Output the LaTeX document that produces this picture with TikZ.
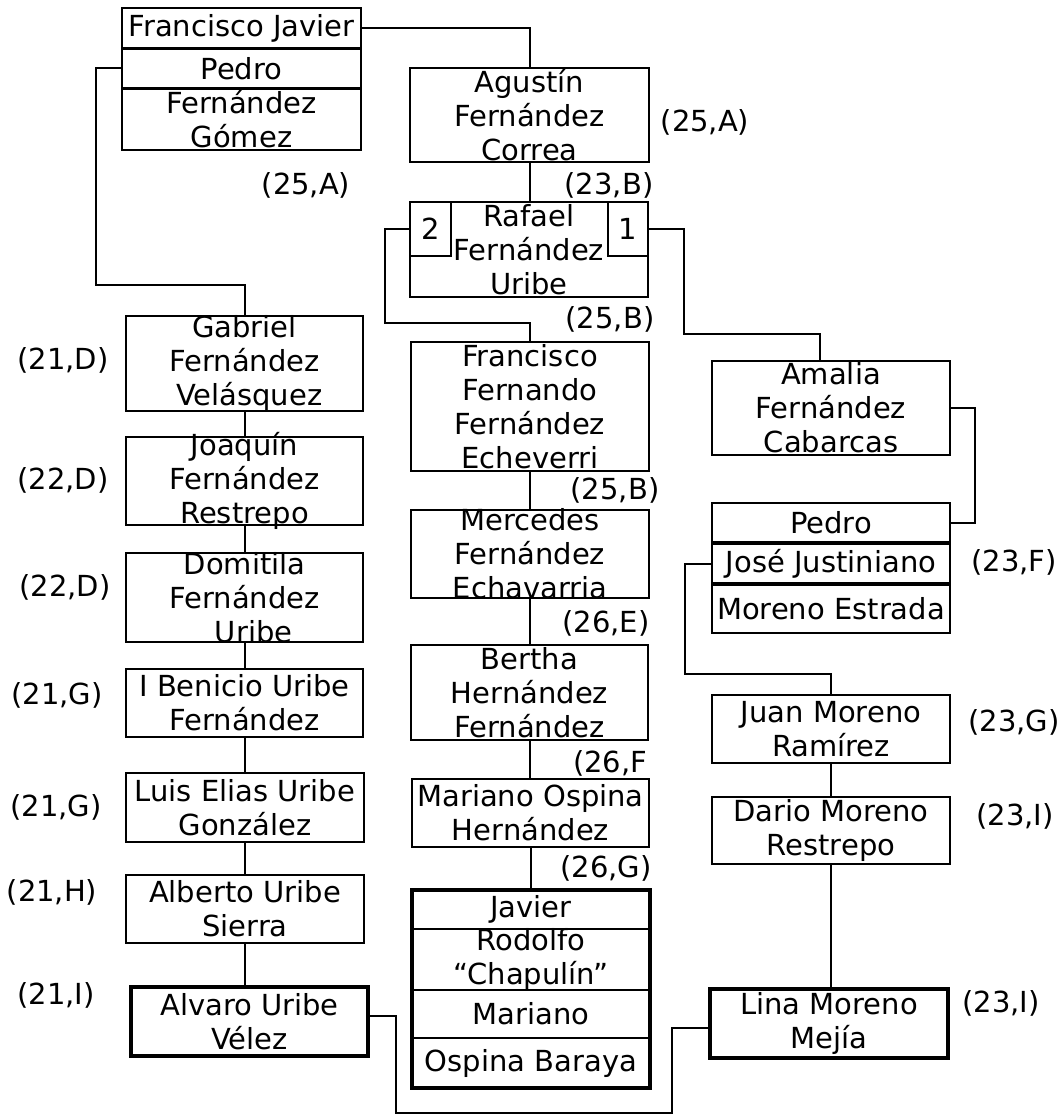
\documentclass[tikz,border=0pt]{standalone}
\usepackage{fontspec}
\setmainfont{DejaVu Sans}
\begin{document}
\begin{tikzpicture}[x=1pt,y=-1pt,
  box/.style={draw, line width=2pt, inner sep=0pt, outer sep=0pt},
  thickbox/.style={draw, line width=4pt, inner sep=0pt, outer sep=0pt},
  sz/.style 2 args={minimum width=#1pt, minimum height=#2pt},
  txt/.style={align=center, inner sep=0pt, font=\fontsize{29pt}{34pt}\selectfont},
  lab/.style={inner sep=0pt, font=\fontsize{29pt}{34pt}\selectfont},
  link/.style={line width=2pt}]
\useasboundingbox (0,0) rectangle (1064,1116);

% ---------- left column ----------
\node[box, sz={239}{40}] (fj1) at (241.5,28) {};
\node[txt] at (fj1) {Francisco Javier};
\node[box, sz={239}{39}] (fj2) at (241.5,68.5) {};
\node[txt] at (fj2) {Pedro};
\node[box, sz={239}{61}] (fj3) at (241.5,119.5) {};
\node[txt] at (fj3) {Fernández\\Gómez};

\node[box, sz={237}{95}] (gab) at (244.5,363.5) {};
\node[txt] at (gab) {Gabriel\\Fernández\\\ Velásquez};
\node[box, sz={237}{88}] (joa) at (244.5,481) {};
\node[txt] at (joa) {Joaquín\\Fernández\\Restrepo};
\node[box, sz={237}{89}] (dom) at (244.5,597.5) {};
\node[txt] at (dom) {Domitila\\Fernández\\\ \ Uribe};
\node[box, sz={237}{68}] (ben) at (244.5,703) {};
\node[txt] at (ben) {I Benicio Uribe\\Fernández};
\node[box, sz={238}{69}] (lui) at (245,807.5) {};
\node[txt] at (lui) {Luis Elias Uribe\\González};
\node[box, sz={238}{68}] (alb) at (245,909) {};
\node[txt] at (alb) {Alberto Uribe\\Sierra};
\node[thickbox, sz={237}{69}] (alv) at (249.5,1021.5) {};
\node[txt] at (alv) {Alvaro Uribe\\Vélez};

% ---------- middle column ----------
\node[box, sz={239}{94}] (ag) at (529.5,115) {};
\node[txt] at (ag) {Agustín\\Fernández\\Correa};
\node[box, sz={238}{95}] (raf) at (529,249.5) {};
\node[box, sz={41}{54}] (b2) at (430.5,229) {};
\node[box, sz={40}{54}] (b1) at (628,229) {};
\node[txt] at (raf) {Rafael\\Fernández\\Uribe};
\node[txt] at (b2) {2};
\node[txt] at (b1) {1};
\node[box, sz={238}{129}] (ffe) at (530,406.5) {};
\node[txt] at (ffe) {Francisco\\Fernando\\Fernández\\Echeverri};
\node[box, sz={238}{88}] (mer) at (530,554) {};
\node[txt] at (mer) {Mercedes\\Fernández\\Echavarria};
\node[box, sz={237}{95}] (ber) at (529.5,692.5) {};
\node[txt] at (ber) {Bertha\\Hernández\\Fernández};
\node[box, sz={237}{68}] (mar) at (530.5,813) {};
\node[txt] at (mar) {Mariano Ospina\\Hernández};
\node[box, sz={238}{39}] (j1) at (531,909.5) {};
\node[txt] at (j1) {Javier};
\node[box, sz={238}{61}] (j2) at (531,959.5) {};
\node[txt] at (j2) {Rodolfo\\“Chapulín”};
\node[box, sz={238}{48}] (j3) at (531,1014) {};
\node[txt] at (j3) {Mariano};
\node[box, sz={238}{50}] (j4) at (531,1063) {};
\node[txt] at (j4) {Ospina Baraya};
\node[thickbox, sz={238}{198}] (jav) at (531,989) {};

% ---------- right column ----------
\node[box, sz={238}{94}] (am) at (831,408) {};
\node[txt] at (am) {Amalia\\Fernández\\Cabarcas};
\node[box, sz={238}{39}] (pe1) at (831,522.5) {};
\node[txt] at (pe1) {Pedro};
\node[box, sz={238}{39}] (pe2) at (831,563.5) {};
\node[txt] at (pe2) {José Justiniano};
\node[box, sz={238}{48}] (pe3) at (831,609) {};
\node[txt] at (pe3) {Moreno Estrada};
\node[box, sz={238}{68}] (jua) at (831,729) {};
\node[txt] at (jua) {Juan Moreno\\Ramírez};
\node[box, sz={238}{67}] (dar) at (831,830.5) {};
\node[txt] at (dar) {Dario Moreno\\Restrepo};
\node[thickbox, sz={238}{69}] (lin) at (829,1023.5) {};
\node[txt] at (lin) {Lina Moreno\\Mejía};

% ---------- labels ----------
\node[lab] (l1) at (63,360) {(21,D)};
\node[lab] (l2) at (63,480) {(22,D)};
\node[lab] (l3) at (65,587) {(22,D)};
\node[lab] (l4) at (57,695) {(21,G)};
\node[lab] (l5) at (56,807) {(21,G)};
\node[lab] (l6) at (52,892) {(21,H)};
\node[lab] (l7) at (56,995) {(21,I)};
\node[lab] (l8) at (306,185) {(25,A)};
\node[lab] (l9) at (705,122) {(25,A)};
\node[lab] (l10) at (609,185) {(23,B)};
\node[lab] (l11) at (610,319) {(25,B)};
\node[lab] (l12) at (615,490) {(25,B)};
\node[lab] (l13) at (606,623) {(26,E)};
\node[lab, anchor=west] (l14) at (573,763) {(26,F};
\node[lab] (l15) at (606,868) {(26,G)};
\node[lab] (l16) at (1014,562) {(23,F)};
\node[lab] (l17) at (1014,722) {(23,G)};
\node[lab] (l18) at (1015,816) {(23,I)};
\node[lab] (l19) at (1001,1003) {(23,I)};

% ---------- connectors ----------
\coordinate (c1) at (96,285);
\coordinate (c2) at (385,323);
\coordinate (c3) at (684,334);
\coordinate (c3b) at (820,334);
\coordinate (c4) at (975,408);
\coordinate (c5) at (685,674);
\coordinate (c6) at (396,1113);
\coordinate (c7) at (672,1113);

\draw[link] (fj1.east) -| (ag.north);
\draw[link] (fj2.west) -| (c1) -| (gab.north);
\draw[link] (ag.south) -- (ag.south |- raf.north);
\draw[link] (b2.west) -| (c2) -| (ffe.north);
\draw[link] (b1.east) -| (c3) -- (c3b) -- (c3b |- am.north);
\draw[link] (am.east) -- (c4) |- (pe1.east);
\draw[link] (pe2.west) -| (c5) -| (jua.north);
\draw[link] (jua.south) -- (jua.south |- dar.north);
\draw[link] (dar.south) -- (dar.south |- lin.north);

\draw[link] (gab.south) -- (gab.south |- joa.north);
\draw[link] (joa.south) -- (joa.south |- dom.north);
\draw[link] (dom.south) -- (dom.south |- ben.north);
\draw[link] (ben.south) -- (ben.south |- lui.north);
\draw[link] (lui.south) -- (lui.south |- alb.north);
\draw[link] (alb.south) -- (alb.south |- alv.north);

\draw[link] (ffe.south) -- (ffe.south |- mer.north);
\draw[link] (mer.south) -- (mer.south |- ber.north);
\draw[link] (ber.south) -- (ber.south |- mar.north);
\draw[link] (mar.south) -- (mar.south |- jav.north);

\draw[link] ([yshift=5.5pt]alv.east) -| (c6) -- (c7) |- ([yshift=-4.5pt]lin.west);
\end{tikzpicture}
\end{document}
